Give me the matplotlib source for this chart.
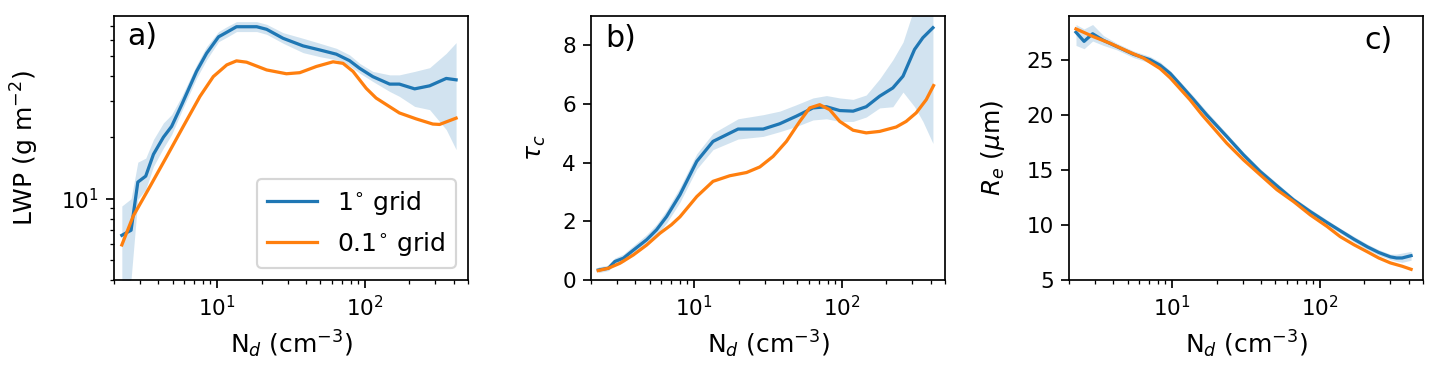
import matplotlib
matplotlib.use("Agg")
import matplotlib.pyplot as plt

# ---------------- data ----------------
# Panel a: LWP (g m-2)
a_blue_nd = [2.26, 2.61, 2.90, 3.28, 3.70, 4.32, 4.91, 5.74, 7.24, 8.47, 10.2, 11.6, 13.5, 18.5,
             21.6, 27.9, 38.1, 49.4, 64, 78.7, 92, 113, 147, 171, 217, 274, 355, 414]
a_blue_lwp = [6.62, 7.01, 12.06, 12.9, 16.5, 20.0, 22.6, 28.8, 42, 51.5, 62, 65.3, 69.5, 69.5,
              67.5, 61, 56, 53.5, 51, 47.4, 43.5, 39.6, 36.4, 36.4, 34.5, 35.7, 38.8, 38.2]
a_band_hi = [9.21, 10.0, 15.1, 15.8, 19.5, 23.5, 25.8, 31.7, 45.2, 55.6, 65.8, 69.5, 73.6, 73.6,
             71.4, 65, 61, 57.7, 54.5, 50.6, 46, 42, 40.4, 40.4, 42, 43.8, 51.5, 58.1]
a_band_lo = [3.23, 4.05, 9.93, 11.1, 14.4, 17.7, 20.6, 26.8, 38.9, 47.9, 58.7, 61.7, 65.8, 65.8,
             63.8, 57.7, 51.9, 49.6, 47.9, 44.7, 41.2, 37.5, 33.5, 31.7, 28.3, 27.3, 21.8, 17.4]
a_orange_nd = [2.26, 2.70, 3.51, 4.55, 5.89, 7.64, 9.4, 11.6, 13.5, 15.8, 21.6, 29.4, 36.2, 46.9,
               60.8, 71, 83, 102, 119, 171, 222, 288, 320, 414]
a_orange_lwp = [5.94, 8.23, 11.5, 16.1, 22.6, 31.7, 39.6, 45.2, 47.3, 46.6, 42.7, 40.9, 41.4, 44.4,
                46.8, 46, 42, 34.7, 31.1, 26.3, 24.6, 23.2, 23.1, 24.8]

# Panel b: tau_c
b_blue_nd = [2.24, 2.62, 2.90, 3.31, 3.77, 4.76, 5.56, 6.50, 8.0, 10.4, 13.4, 19.8, 29.3, 37.9,
             49.2, 63.7, 78.5, 96.6, 119, 146, 180, 221, 259, 310, 353, 413]
b_blue_tau = [0.34, 0.40, 0.63, 0.74, 0.97, 1.37, 1.71, 2.16, 2.90, 4.04, 4.72, 5.14, 5.14, 5.32,
              5.58, 5.86, 5.90, 5.77, 5.75, 5.90, 6.26, 6.54, 6.94, 7.85, 8.25, 8.59]
b_band_hi = [0.45, 0.50, 0.75, 0.88, 1.12, 1.55, 1.90, 2.38, 3.15, 4.30, 5.00, 5.49, 5.63, 5.75,
             5.97, 6.20, 6.28, 6.20, 6.15, 6.30, 6.85, 7.50, 8.10, 9.30, 9.80, 10.5]
b_band_lo = [0.25, 0.32, 0.52, 0.60, 0.82, 1.18, 1.52, 1.94, 2.65, 3.78, 4.44, 4.80, 4.89, 5.05,
             5.23, 5.45, 5.49, 5.40, 5.40, 5.55, 5.86, 5.90, 6.40, 5.90, 5.40, 4.65]
b_orange_nd = [2.24, 2.62, 3.14, 3.86, 4.76, 5.85, 7.0, 8.0, 10.4, 13.4, 17.4, 22.6, 27.8, 34.2,
               42.1, 51.8, 60.5, 70.7, 82.6, 96.6, 119, 146, 180, 233, 272, 318, 372, 417]
b_orange_tau = [0.32, 0.40, 0.57, 0.85, 1.19, 1.59, 1.88, 2.15, 2.84, 3.36, 3.55, 3.66, 3.85, 4.21,
                4.72, 5.40, 5.86, 5.97, 5.80, 5.40, 5.10, 5.01, 5.06, 5.21, 5.40, 5.69, 6.14, 6.62]

# Panel c: R_e (um)
c_blue_nd = [2.23, 2.53, 2.89, 3.42, 4.21, 5.46, 7.08, 8.27, 9.7, 11.5, 13.9, 17.1, 23.4, 30.4,
             39.4, 51.1, 66.3, 86, 112, 137, 170, 210, 250, 300, 330, 360, 414]
c_blue_re = [27.5, 26.67, 27.36, 26.76, 26.2, 25.5, 25.0, 24.5, 23.75, 22.65, 21.4, 20.0, 18.03, 16.36,
             14.85, 13.55, 12.27, 11.21, 10.21, 9.48, 8.7, 8.0, 7.5, 7.1, 7.0, 7.0, 7.21]
c_band_hi = [28.2, 27.8, 28.2, 27.2, 26.5, 25.8, 25.3, 24.8, 24.0, 22.9, 21.7, 20.3, 18.3, 16.6,
             15.1, 13.8, 12.5, 11.45, 10.45, 9.7, 8.95, 8.25, 7.75, 7.35, 7.35, 7.45, 7.6]
c_band_lo = [26.3, 26.0, 26.7, 26.3, 25.9, 25.2, 24.7, 24.2, 23.5, 22.4, 21.1, 19.7, 17.8, 16.1,
             14.6, 13.3, 12.0, 10.97, 9.97, 9.25, 8.45, 7.75, 7.25, 6.85, 6.7, 6.6, 6.8]
c_orange_nd = [2.23, 2.92, 3.79, 4.92, 6.38, 8.27, 9.7, 13.2, 15.9, 23.4, 30.4, 39.4, 51.1, 66.3,
               86, 112, 137, 170, 210, 250, 300, 360, 414]
c_orange_re = [27.8, 27.1, 26.5, 25.8, 25.15, 24.2, 23.35, 21.36, 20.0, 17.42, 15.9, 14.55, 13.2, 12.12,
               10.91, 9.85, 8.94, 8.2, 7.55, 7.0, 6.55, 6.25, 5.97]

legend_labels = ["1$^{\\circ}$ grid", "0.1$^{\\circ}$ grid"]
panel_letters = ["a)", "b)", "c)"]
ylabels = ["LWP (g m$^{-2}$)", "$\\tau_c$", "$R_e$ ($\\mu$m)"]
xlabel = "N$_d$ (cm$^{-3}$)"

# ---------------- style (scaled defaults) ----------------
s = 1.55
plt.rcParams.update({
    "font.size": 10 * s,
    "axes.labelsize": 18,
    "legend.fontsize": 18,
    "axes.linewidth": 0.8 * s,
    "lines.linewidth": 1.5 * s,
    "patch.linewidth": 1.0 * s,
    "xtick.major.size": 3.5 * s, "ytick.major.size": 3.5 * s,
    "xtick.minor.size": 2.0 * s, "ytick.minor.size": 2.0 * s,
    "xtick.major.width": 0.8 * s, "ytick.major.width": 0.8 * s,
    "xtick.minor.width": 0.6 * s, "ytick.minor.width": 0.6 * s,
    "xtick.major.pad": 3.5 * s, "ytick.major.pad": 3.5 * s,
    "xtick.minor.pad": 3.4 * s, "ytick.minor.pad": 3.4 * s,
    "axes.labelpad": 4.0 * s,
})

# ---------------- figure ----------------
W, H = 1439, 374
dpi = 100
fig = plt.figure(figsize=(W / dpi, H / dpi), dpi=dpi)

bottom = (H - 280) / H
height = 264.3 / H
lefts = [114, 591, 1069]
width = 354.2 / W
axes = [fig.add_axes([l / W, bottom, width, height]) for l in lefts]

C0, C1 = "#1f77b4", "#ff7f0e"

ax = axes[0]
ax.fill_between(a_blue_nd, a_band_lo, a_band_hi, color=C0, alpha=0.2, lw=0)
ax.plot(a_blue_nd, a_blue_lwp, color=C0, label=legend_labels[0])
ax.plot(a_orange_nd, a_orange_lwp, color=C1, label=legend_labels[1])
ax.set_yscale("log")
ax.set_ylim(4.0, 78.7)
ax.legend(loc="lower right")

ax = axes[1]
ax.fill_between(b_blue_nd, b_band_lo, b_band_hi, color=C0, alpha=0.2, lw=0)
ax.plot(b_blue_nd, b_blue_tau, color=C0)
ax.plot(b_orange_nd, b_orange_tau, color=C1)
ax.set_ylim(0, 9)

ax = axes[2]
ax.fill_between(c_blue_nd, c_band_lo, c_band_hi, color=C0, alpha=0.2, lw=0)
ax.plot(c_blue_nd, c_blue_re, color=C0)
ax.plot(c_orange_nd, c_orange_re, color=C1)
ax.set_ylim(5, 29)
ax.set_yticks([5, 10, 15, 20, 25])

letter_pos = [(0.038, 0.889), (0.041, 0.883), (0.833, 0.873)]
ylab_x = [-0.205, -0.12, -0.174]
for ax, lab, yl, (tx, ty), lx in zip(axes, panel_letters, ylabels, letter_pos, ylab_x):
    ax.set_xscale("log")
    ax.set_xlim(2, 500)
    ax.set_xlabel(xlabel)
    ax.set_ylabel(yl)
    ax.yaxis.set_label_coords(lx, 0.5)
    ax.text(tx, ty, lab, transform=ax.transAxes, fontsize=14 * s, ha="left", va="baseline")

fig.savefig("out.png", dpi=dpi)
